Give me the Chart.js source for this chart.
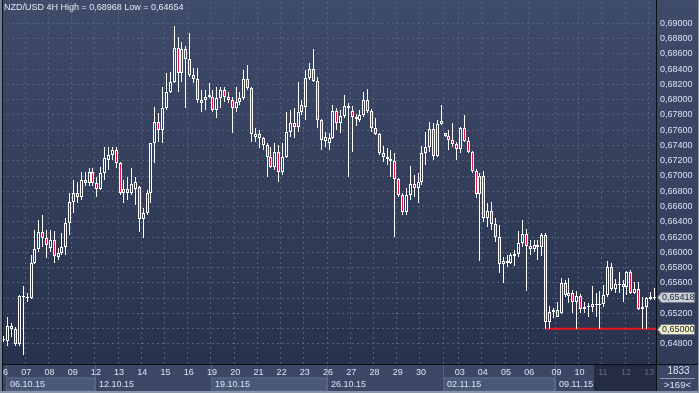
<!DOCTYPE html>
<html>
<head>
<meta charset="utf-8">
<script src="https://cdn.jsdelivr.net/npm/chart.js@4.4.0/dist/chart.umd.min.js"></script>
<style>
html,body{margin:0;padding:0;background:#3a4664;overflow:hidden}
#wrap{width:699px;height:393px;position:relative}
canvas{display:block}
</style>
</head>
<body>
<div id="wrap"><canvas id="c" width="699" height="393"></canvas></div>
<script>
// ---- data (NZD/USD, 4H bars) ----
const opens = [
0.64862,0.64843,0.65035,0.64996,0.64800,0.65428,0.65415,0.65405,0.65857,0.66040,
0.66270,0.66184,0.66053,0.66162,0.65945,0.65988,0.66074,0.66380,0.66660,0.66773,
0.66725,0.66948,0.66912,0.67052,0.66904,0.66826,0.67035,0.67210,0.67275,0.67341,
0.67166,0.66773,0.66826,0.66781,0.66830,0.66852,0.66433,0.66512,0.66773,0.67428,
0.67711,0.67603,0.67887,0.68104,0.68235,0.68673,0.68345,0.68660,0.68529,0.68323,
0.68267,0.67960,0.67990,0.68031,0.68040,0.67865,0.68018,0.68127,0.68031,0.67996,
0.67887,0.67973,0.68018,0.68267,0.68149,0.67515,0.67550,0.67494,0.67406,0.67253,
0.67122,0.67310,0.67056,0.67253,0.67580,0.67690,0.67638,0.67842,0.67900,0.68280,
0.68398,0.68244,0.67734,0.67462,0.67430,0.67494,0.67851,0.67690,0.67786,0.67887,
0.67851,0.67777,0.67740,0.67799,0.67996,0.67851,0.67625,0.67546,0.67305,0.67253,
0.67219,0.67197,0.66957,0.66751,0.66532,0.66751,0.66895,0.66847,0.66925,0.67297,
0.67384,0.67612,0.67262,0.67681,0.67559,0.67524,0.67472,0.67419,0.67358,0.67625,
0.67463,0.67318,0.67070,0.66760,0.67000,0.66446,0.66546,0.66371,0.66205,0.65847,
0.65891,0.65857,0.65956,0.65978,0.66119,0.66240,0.66083,0.66040,0.66096,0.66066,
0.66227,0.65088,0.65219,0.65245,0.65200,0.65595,0.65430,0.65464,0.65354,0.65428,
0.65254,0.65280,0.65285,0.65310,0.65312,0.65324,0.65441,0.65804,0.65516,0.65575,
0.65587,0.65550,0.65743,0.65472,0.65524,0.65254,0.65280,0.65393,0.65405
];
const highs = [
0.64904,0.65157,0.65071,0.65026,0.65441,0.65559,0.65468,0.65965,0.66293,0.66424,
0.66489,0.66293,0.66293,0.66280,0.66053,0.66250,0.66446,0.66773,0.66948,0.66921,
0.67052,0.67052,0.67105,0.67105,0.66991,0.67122,0.67384,0.67384,0.67384,0.67384,
0.67183,0.66948,0.66991,0.67105,0.66987,0.66869,0.66581,0.66817,0.67432,0.67908,
0.67825,0.68170,0.68349,0.68366,0.68968,0.68825,0.68759,0.68703,0.68869,0.68411,
0.68411,0.68127,0.68127,0.68222,0.68127,0.68170,0.68170,0.68170,0.68104,0.68031,
0.68162,0.68104,0.68389,0.68454,0.68170,0.67625,0.67603,0.67515,0.67428,0.67384,
0.67428,0.67406,0.67428,0.67842,0.67865,0.67887,0.68235,0.67996,0.68389,0.68476,
0.68660,0.68301,0.67750,0.67580,0.67559,0.67930,0.67887,0.67865,0.68061,0.67960,
0.67917,0.67812,0.67865,0.68104,0.68136,0.67874,0.67756,0.67559,0.67393,0.67363,
0.67341,0.67297,0.66970,0.66777,0.66843,0.67131,0.67013,0.67035,0.67393,0.67580,
0.67711,0.67690,0.67734,0.67930,0.67567,0.67603,0.67690,0.67449,0.67638,0.67799,
0.67515,0.67327,0.67088,0.67035,0.67070,0.66643,0.66663,0.66446,0.66358,0.65943,
0.65965,0.65988,0.66030,0.66280,0.66424,0.66302,0.66162,0.66162,0.66162,0.66250,
0.66253,0.65297,0.65267,0.65354,0.65660,0.65638,0.65660,0.65507,0.65498,0.65455,
0.65354,0.65333,0.65559,0.65464,0.65494,0.65572,0.65891,0.65857,0.65647,0.65739,
0.65638,0.65760,0.65769,0.65616,0.65616,0.65419,0.65411,0.65485,0.65529
];
const lows = [
0.64826,0.64777,0.64895,0.64777,0.64777,0.64654,0.65354,0.65389,0.65850,0.66009,
0.66074,0.65922,0.66009,0.65857,0.65900,0.65965,0.65965,0.66227,0.66512,0.66646,
0.66686,0.66869,0.66869,0.66869,0.66721,0.66817,0.66948,0.67079,0.67210,0.67101,
0.66751,0.66643,0.66686,0.66751,0.66620,0.66267,0.66188,0.66489,0.66646,0.67166,
0.67449,0.67428,0.67865,0.68083,0.68214,0.68104,0.68235,0.67887,0.68301,0.68214,
0.67952,0.67842,0.67865,0.68018,0.67842,0.67756,0.67887,0.67973,0.67952,0.67559,
0.67842,0.67930,0.67996,0.68127,0.67449,0.67449,0.67363,0.67341,0.66991,0.67101,
0.67079,0.66925,0.67013,0.67240,0.67515,0.67494,0.67580,0.67799,0.67734,0.68258,
0.68235,0.67625,0.67341,0.67384,0.67341,0.67480,0.67603,0.67567,0.67756,0.66991,
0.67318,0.67655,0.67711,0.67777,0.67829,0.67580,0.67537,0.67275,0.67187,0.67144,
0.66991,0.66205,0.66729,0.66489,0.66489,0.66686,0.66729,0.66643,0.66882,0.67144,
0.67318,0.67210,0.67250,0.67668,0.67515,0.67341,0.67384,0.67210,0.67297,0.67449,
0.67297,0.67035,0.66708,0.65891,0.66402,0.66328,0.66293,0.66140,0.65733,0.65595,
0.65804,0.65847,0.65821,0.65943,0.66074,0.65498,0.65965,0.66009,0.65900,0.65952,
0.65000,0.65002,0.65136,0.65153,0.65190,0.65419,0.65333,0.65210,0.64998,0.65202,
0.65202,0.65157,0.65223,0.65149,0.64998,0.65280,0.65420,0.65498,0.65464,0.65464,
0.65354,0.65441,0.65455,0.65455,0.65245,0.64998,0.64998,0.65376,0.65376
];
const closes = [
0.64868,0.65035,0.64996,0.64800,0.65428,0.65415,0.65411,0.65857,0.66040,0.66270,
0.66184,0.66096,0.66162,0.65952,0.65988,0.66074,0.66380,0.66663,0.66773,0.66725,
0.66948,0.66912,0.67052,0.66904,0.66826,0.67035,0.67232,0.67275,0.67341,0.67166,
0.66773,0.66826,0.66781,0.66895,0.66921,0.66433,0.66512,0.66773,0.67428,0.67711,
0.67603,0.67887,0.68104,0.68235,0.68673,0.68345,0.68660,0.68529,0.68323,0.68267,
0.67996,0.67996,0.68031,0.68061,0.67865,0.68018,0.68127,0.68031,0.67996,0.67887,
0.67973,0.68018,0.68267,0.68149,0.67550,0.67550,0.67494,0.67406,0.67253,0.67122,
0.67310,0.67056,0.67253,0.67580,0.67690,0.67638,0.67842,0.67930,0.68280,0.68398,
0.68244,0.67734,0.67472,0.67507,0.67494,0.67851,0.67690,0.67786,0.67917,0.67917,
0.67777,0.67743,0.67799,0.67996,0.67851,0.67625,0.67546,0.67305,0.67253,0.67219,
0.67197,0.66957,0.66751,0.66532,0.66751,0.66895,0.66847,0.66925,0.67297,0.67384,
0.67612,0.67262,0.67681,0.67720,0.67524,0.67472,0.67419,0.67358,0.67625,0.67463,
0.67318,0.67070,0.66760,0.67000,0.66446,0.66546,0.66371,0.66205,0.65847,0.65891,
0.65857,0.65965,0.65978,0.66119,0.66240,0.66083,0.66040,0.66096,0.66066,0.66227,
0.65088,0.65219,0.65245,0.65157,0.65595,0.65441,0.65464,0.65354,0.65428,0.65254,
0.65288,0.65297,0.65320,0.65324,0.65326,0.65441,0.65804,0.65516,0.65582,0.65587,
0.65550,0.65743,0.65472,0.65524,0.65254,0.65280,0.65408,0.65411,0.65418
];
// day separators (bar index where each day starts) and their labels
const dayTickIdx    = [0,6,12,18,24,30,36,42,48,54,60,66,72,78,84,90,96,102,108,114,118,124,130,136,143,149,155,161,167];
const dayTickLabels = ['06','07','08','09','12','13','14','15','16','19','20','21','22','23','26','27','28','29','30','','03','04','05','06','09','10','11','12','13'];
// week rows
const weekStartIdx = [0,24,54,84,114,143];
const weekLabels   = ['06.10.15','12.10.15','19.10.15','26.10.15','02.11.15','09.11.15'];
// price axis ticks
const priceTicks = [0.648,0.650,0.652,0.654,0.656,0.658,0.660,0.662,0.664,0.666,0.668,
                    0.670,0.672,0.674,0.676,0.678,0.680,0.682,0.684,0.686,0.688,0.690];
const supportLevel = 0.65000;
const supportFromIdx = 140;
const shadedFromIdx = 153;
const titleText = 'NZD/USD 4H High = 0,68968 Low = 0,64654';
const cornerTop = '1833';
const cornerBottom = '>169<';

// ---- build datasets ----
const N = opens.length;
const idx = opens.map((_, i) => i);
const bodyData = idx.map(i => ({x: i, y: [opens[i], closes[i]]}));
const upperWick = idx.map(i => ({x: i, y: [Math.max(opens[i], closes[i]), highs[i]]}));
const lowerWick = idx.map(i => ({x: i, y: [lows[i], Math.min(opens[i], closes[i])]}));
const bodyFill = idx.map(i => closes[i] < opens[i] ? '#e3163c' : 'rgba(0,0,0,0)');

const FONT = 'Liberation Sans, Arial, sans-serif';
const fmt = v => v.toFixed(5).replace('.', ',');

const snapPlugin = {
  id: 'snap',
  beforeDatasetsDraw(chart) {
    chart.data.datasets.forEach((ds, di) => {
      if (ds.type !== 'bar') return;
      chart.getDatasetMeta(di).data.forEach(el => {
        el.x = Math.floor(el.x) + 0.5;
        let a = Math.round(el.y), b = Math.round(el.base);
        if (ds.isBody && Math.abs(a - b) < 1) b = a + 1;
        el.y = a; el.base = b;
      });
    });
  }
};

const panelPlugin = {
  id: 'panels',
  beforeDraw(chart) {
    const {ctx, chartArea: a, width: W, height: H} = chart;
    const xs = chart.scales.x;
    ctx.save();
    ctx.fillStyle = '#3b4765';
    ctx.fillRect(0, 0, W, H);
    const g = ctx.createLinearGradient(0, a.top, 0, a.bottom);
    g.addColorStop(0, '#3e4b69');
    g.addColorStop(1, '#28324c');
    ctx.fillStyle = g;
    ctx.fillRect(0, 0, a.right, a.bottom);
    const g2 = ctx.createLinearGradient(0, 0, 0, a.bottom);
    g2.addColorStop(0, '#3e4b69');
    g2.addColorStop(1, '#303b58');
    ctx.fillStyle = g2;
    ctx.fillRect(a.right, 0, W - a.right, a.bottom);
    // bottom axis band
    ctx.fillStyle = '#3b4765';
    ctx.fillRect(0, a.bottom, W, H - a.bottom);
    // week boxes
    const rowTop = a.bottom + 13.5;
    ctx.font = '9px ' + FONT;
    ctx.textBaseline = 'middle';
    weekStartIdx.forEach((s, k) => {
      const x0 = Math.max(Math.round(xs.getPixelForValue(s - 0.5)), 6);
      const x1 = k + 1 < weekStartIdx.length ? Math.round(xs.getPixelForValue(weekStartIdx[k + 1] - 0.5)) : Math.round(a.right);
      if (k % 2 === 0) {
        ctx.fillStyle = '#4a5877';
        ctx.fillRect(x0, rowTop, x1 - x0, 14);
        ctx.strokeStyle = '#5c6987';
        ctx.lineWidth = 1;
        ctx.strokeRect(x0 + 0.5, rowTop + 0.5, x1 - x0 - 1, 13);
      }
      ctx.strokeStyle = '#56637f';
      ctx.beginPath();
      ctx.moveTo(x0 + 0.5, a.bottom + 1);
      ctx.lineTo(x0 + 0.5, H - 2);
      ctx.stroke();
      ctx.fillStyle = '#d9e2f2';
      ctx.fillText(weekLabels[k], x0 + 4, rowTop + 7.5);
    });
    ctx.restore();
  },
  afterDraw(chart) {
    const {ctx, chartArea: a, width: W, height: H} = chart;
    const xs = chart.scales.x, ys = chart.scales.y;
    ctx.save();
    // shaded band in the time axis
    const sx = Math.round(xs.getPixelForValue(shadedFromIdx - 0.5));
    ctx.fillStyle = 'rgba(22,28,46,0.62)';
    ctx.fillRect(sx, a.bottom + 1, a.right - sx, H - a.bottom - 3);
    // corner box
    ctx.fillStyle = '#3b4765';
    ctx.fillRect(a.right, a.bottom, W - a.right, H - a.bottom);
    ctx.textAlign = 'center';
    ctx.textBaseline = 'middle';
    ctx.fillStyle = '#d9e2f2';
    const cx = (a.right + W) / 2;
    ctx.font = '10px ' + FONT;
    ctx.fillText(cornerTop, cx + 1, a.bottom + 7.5);
    ctx.font = '9.5px ' + FONT;
    ctx.fillText(cornerBottom, cx, a.bottom + 21);
    ctx.strokeStyle = '#8e99b0';
    ctx.lineWidth = 1;
    ctx.beginPath();
    ctx.moveTo(a.right + 4, a.bottom + 14.5);
    ctx.lineTo(W - 4, a.bottom + 14.5);
    ctx.stroke();
    // separators
    ctx.strokeStyle = '#0b0f18';
    ctx.beginPath();
    ctx.moveTo(0, a.bottom + 0.5); ctx.lineTo(W, a.bottom + 0.5);
    ctx.moveTo(a.right + 0.5, 0); ctx.lineTo(a.right + 0.5, H);
    ctx.moveTo(2.5, 0); ctx.lineTo(2.5, H);
    ctx.stroke();
    // outer frame
    ctx.fillStyle = '#6f7b95';
    ctx.fillRect(0, 0, 2, H);
    ctx.fillStyle = '#8b95a9';
    ctx.fillRect(0, H - 2, W, 2);
    ctx.fillRect(W - 1, 0, 1, H);
    // price tags
    ctx.font = '9px ' + FONT;
    const tag = (val, fill) => {
      const y = Math.round(ys.getPixelForValue(val)) + 0.5;
      ctx.beginPath();
      ctx.moveTo(a.right + 1.5, y);
      ctx.lineTo(a.right + 5.5, y - 5);
      ctx.lineTo(W - 4.5, y - 5);
      ctx.lineTo(W - 4.5, y + 5);
      ctx.lineTo(a.right + 5.5, y + 5);
      ctx.closePath();
      ctx.fillStyle = fill;
      ctx.fill();
      ctx.strokeStyle = '#727b8c';
      ctx.stroke();
      ctx.fillStyle = '#1c2333';
      ctx.textAlign = 'left';
      ctx.fillText(fmt(val), a.right + 6, y + 0.5);
    };
    tag(closes[N - 1], '#cdd0d7');
    tag(supportLevel, '#f1edc6');
    // title
    ctx.font = '9px ' + FONT;
    ctx.textAlign = 'left';
    ctx.fillStyle = '#e2e8f2';
    ctx.fillText(titleText, 4, 8);
    ctx.restore();
  }
};

Chart.defaults.font.family = FONT;

new Chart(document.getElementById('c'), {
  type: 'bar',
  data: {
    datasets: [
      {type: 'line', data: [{x: supportFromIdx, y: supportLevel}, {x: N - 0.5, y: supportLevel}],
       borderColor: '#e8141e', borderWidth: 2, pointRadius: 0, order: 5},
      {type: 'bar', data: upperWick, barThickness: 1, backgroundColor: '#ffffff', borderWidth: 0,
       grouped: false, inflateAmount: 0, order: 3},
      {type: 'bar', data: lowerWick, barThickness: 1, backgroundColor: '#ffffff', borderWidth: 0,
       grouped: false, inflateAmount: 0, order: 3},
      {type: 'bar', isBody: true, data: bodyData, barThickness: 3, backgroundColor: bodyFill,
       borderColor: '#ffffff', borderWidth: 1, borderSkipped: false, grouped: false, inflateAmount: 0, order: 1}
    ]
  },
  options: {
    responsive: false,
    animation: false,
    devicePixelRatio: 1,
    layout: {padding: {left: 2, top: 2, right: 0, bottom: 0}, autoPadding: false},
    plugins: {legend: {display: false}, tooltip: {enabled: false}},
    scales: {
      x: {
        type: 'linear', min: -0.5, max: N - 0.5, offset: false,
        afterBuildTicks: s => { s.ticks = dayTickIdx.map(v => ({value: v - 0.5})); },
        afterFit: s => { s.height = 29; s.paddingLeft = 0; s.paddingRight = 0; },
        grid: {color: '#53607e', lineWidth: 1, drawTicks: false, offset: false},
        border: {display: false, dash: [2, 3]},
        ticks: {autoSkip: false, maxRotation: 0, minRotation: 0, color: '#d9e2f2',
                font: {size: 9}, padding: 3, labelOffset: 1,
                callback: (v, i) => dayTickLabels[i]}
      },
      y: {
        type: 'linear', position: 'right', min: 0.64538, max: 0.69279, beginAtZero: false,
        afterBuildTicks: s => { s.ticks = priceTicks.map(v => ({value: v})); },
        afterFit: s => { s.width = 43; s.paddingTop = 0; s.paddingBottom = 0; },
        grid: {color: '#53607e', lineWidth: 1, drawTicks: false},
        border: {display: false, dash: [2, 3]},
        ticks: {autoSkip: false, color: '#d9e2f2', font: {size: 9}, padding: 4,
                callback: v => fmt(v)}
      }
    }
  },
  plugins: [snapPlugin, panelPlugin]
});
</script>
</body>
</html>
